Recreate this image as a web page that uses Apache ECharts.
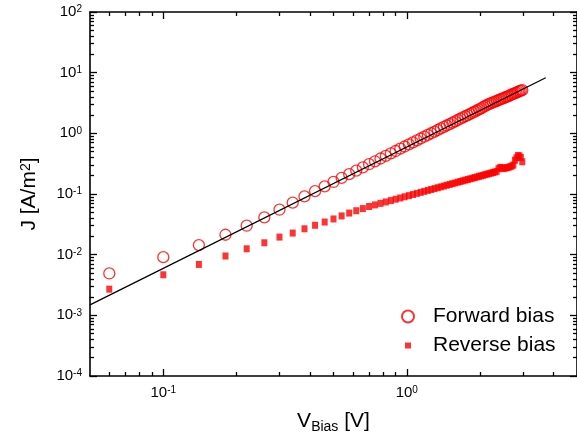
<!DOCTYPE html>
<html>
<head>
<meta charset="utf-8">
<script src="https://cdn.jsdelivr.net/npm/echarts@6/dist/echarts.min.js"></script>
<style>
  html, body { margin: 0; padding: 0; background: #fff; }
  #chart { width: 577px; height: 441px; }
</style>
</head>
<body>
<div id="chart"></div>
<script>
// Bias voltage sweep (V)
const biasVoltage = [
  0.06, 0.10, 0.14, 0.18, 0.22, 0.26, 0.30, 0.34, 0.38, 0.42, 0.46, 0.50,
  0.54, 0.58, 0.62, 0.66, 0.70, 0.74, 0.78, 0.82, 0.86, 0.90, 0.94, 0.98,
  1.02, 1.06, 1.10, 1.14, 1.18, 1.22, 1.26, 1.30, 1.34, 1.38, 1.42, 1.46,
  1.50, 1.54, 1.58, 1.62, 1.66, 1.70, 1.74, 1.78, 1.82, 1.86, 1.90, 1.94,
  1.98, 2.02, 2.06, 2.10, 2.14, 2.18, 2.22, 2.26, 2.30, 2.34, 2.38, 2.42,
  2.46, 2.50, 2.54, 2.58, 2.62, 2.66, 2.70, 2.74, 2.78, 2.82, 2.86, 2.90,
  2.94, 2.98
];

// Current density under forward bias (A/m^2)
const forwardJ = [
  0.0049, 0.0091, 0.0144, 0.0213, 0.0300, 0.0411, 0.0551, 0.0720, 0.0913, 0.1115, 0.1337, 0.158,
  0.1843, 0.2126, 0.2429, 0.2753, 0.3097, 0.3461, 0.3845, 0.425, 0.4674, 0.5119, 0.5584, 0.607,
  0.6575, 0.7101, 0.7647, 0.8213, 0.880, 0.9407, 1.003, 1.068, 1.135, 1.204, 1.274, 1.347,
  1.422, 1.499, 1.578, 1.659, 1.742, 1.826, 1.913, 2.002, 2.093, 2.186, 2.282, 2.379,
  2.478, 2.579, 2.716, 2.844, 2.954, 3.065, 3.154, 3.243, 3.333, 3.422, 3.512, 3.631,
  3.722, 3.813, 3.935, 4.027, 4.119, 4.245, 4.374, 4.467, 4.598, 4.692, 4.826, 4.962,
  5.056, 5.151
];

// Current density under reverse bias (A/m^2)
const reverseJ = [
  0.0027, 0.00466, 0.0069, 0.0095, 0.0125, 0.0157, 0.0195, 0.0227, 0.0267, 0.0305, 0.0345, 0.0388,
  0.0435, 0.0485, 0.0530, 0.0575, 0.0622, 0.0661, 0.0701, 0.0740, 0.0780, 0.0820, 0.0860, 0.0901,
  0.0941, 0.0982, 0.1023, 0.1064, 0.1105, 0.1146, 0.1187, 0.1229, 0.1271, 0.1312, 0.1354, 0.1396,
  0.1438, 0.1481, 0.1523, 0.1565, 0.1608, 0.1651, 0.1694, 0.1736, 0.1779, 0.1822, 0.1866, 0.1909,
  0.1952, 0.1996, 0.2039, 0.2083, 0.2126, 0.2170, 0.2214, 0.2258, 0.2302, 0.236, 0.262, 0.275,
  0.270, 0.262, 0.268, 0.272, 0.276, 0.282, 0.290, 0.300, 0.360, 0.395, 0.430, 0.425,
  0.400, 0.340
];

// Square-law fit line end points
const fitV = [0.05, 3.72];
const fitJ = [0.00149, 8.25];

// Tick positions
const xMajorTicks = [0.1, 1];
const xMinorTicks = [0.06, 0.07, 0.08, 0.09, 0.2, 0.3, 0.4, 0.5, 0.6, 0.7, 0.8, 0.9, 2, 3, 4];
const yMajorTicks = [1e-4, 1e-3, 1e-2, 1e-1, 1, 10, 100];
const yMinorTicks = [
  2e-4, 3e-4, 4e-4, 5e-4, 6e-4, 7e-4, 8e-4, 9e-4,
  2e-3, 3e-3, 4e-3, 5e-3, 6e-3, 7e-3, 8e-3, 9e-3,
  2e-2, 3e-2, 4e-2, 5e-2, 6e-2, 7e-2, 8e-2, 9e-2,
  0.2, 0.3, 0.4, 0.5, 0.6, 0.7, 0.8, 0.9,
  2, 3, 4, 5, 6, 7, 8, 9,
  20, 30, 40, 50, 60, 70, 80, 90
];

const legendNames = ['Forward bias', 'Reverse bias'];

const FONT = "'Liberation Sans', Arial, Helvetica, sans-serif";
const X_RANGE = [0.05, 5];
const Y_RANGE = [1e-4, 100];

function zip(xs, ys) {
  return xs.map((x, i) => [x, ys[i]]);
}

function powerLabel(value) {
  const e = Math.round(Math.log10(value));
  return '{b|10}{s|' + e + '}';
}

const labelRich = {
  b: { fontSize: 15, fontFamily: FONT, color: '#000' },
  s: { fontSize: 10, fontFamily: FONT, color: '#000', verticalAlign: 'top' }
};

function logAxis(dim, position, ticks, len, extra) {
  const range = dim === 'x' ? X_RANGE : Y_RANGE;
  return Object.assign({
    type: 'log',
    logBase: 10,
    position: position,
    min: range[0],
    max: range[1],
    gridIndex: 0,
    axisLine: { show: true, onZero: false, lineStyle: { color: '#000', width: 1.6 } },
    axisTick: { show: true, inside: true, length: len, customValues: ticks,
                lineStyle: { color: '#000', width: 1.3 } },
    axisLabel: { show: false },
    splitLine: { show: false },
    minorTick: { show: false },
    minorSplitLine: { show: false },
    silent: true
  }, extra || {});
}

const chart = echarts.init(document.getElementById('chart'), null, { renderer: 'canvas' });

chart.setOption({
  animation: false,
  backgroundColor: '#fff',
  textStyle: { fontFamily: FONT },
  grid: { left: 90, top: 12, width: 493, height: 364, containLabel: false },
  legend: {
    orient: 'vertical',
    left: 396,
    top: 301,
    itemWidth: 12,
    itemHeight: 12,
    itemGap: 8,
    selectedMode: false,
    textStyle: { fontSize: 21, fontFamily: FONT, color: '#000', padding: [0, 0, 0, 14] },
    data: [
      { name: legendNames[0], icon: 'circle' },
      { name: legendNames[1], icon: 'path://M0,0M12,12M3,3h6v6h-6z' }
    ]
  },
  xAxis: [
    logAxis('x', 'bottom', xMajorTicks, 7, {
      axisLabel: {
        show: true, margin: 9, customValues: xMajorTicks,
        formatter: powerLabel, rich: labelRich
      },
      name: 'V{sub|Bias} [V]',
      nameLocation: 'middle',
      nameGap: 32,
      nameTextStyle: {
        fontSize: 21, fontFamily: FONT, color: '#000',
        rich: {
          sub: { fontSize: 14, fontFamily: FONT, color: '#000', verticalAlign: 'top', padding: [12, 0, 0, 0] }
        }
      }
    }),
    logAxis('x', 'top', xMajorTicks, 7),
    logAxis('x', 'bottom', xMinorTicks, 4, { axisLine: { show: false, onZero: false } }),
    logAxis('x', 'top', xMinorTicks, 4, { axisLine: { show: false, onZero: false } })
  ],
  yAxis: [
    logAxis('y', 'left', yMajorTicks, 7, {
      axisLabel: {
        show: true, margin: 8, customValues: yMajorTicks,
        formatter: powerLabel, rich: labelRich
      },
      name: 'J [A/m{sup|2}]',
      nameLocation: 'middle',
      nameGap: 50,
      nameRotate: 90,
      nameTextStyle: {
        fontSize: 21, fontFamily: FONT, color: '#000',
        rich: {
          sup: { fontSize: 14, fontFamily: FONT, color: '#000', verticalAlign: 'top' }
        }
      }
    }),
    logAxis('y', 'right', yMajorTicks, 7),
    logAxis('y', 'left', yMinorTicks, 4, { axisLine: { show: false, onZero: false } }),
    logAxis('y', 'right', yMinorTicks, 4, { axisLine: { show: false, onZero: false } })
  ],
  series: [
    {
      name: legendNames[1],
      type: 'scatter',
      xAxisIndex: 0, yAxisIndex: 0,
      symbol: 'rect',
      symbolSize: [6, 7],
      itemStyle: { color: '#ff0000' },
      emphasis: { disabled: true },
      data: zip(biasVoltage, reverseJ),
      z: 2
    },
    {
      name: legendNames[0],
      type: 'scatter',
      xAxisIndex: 0, yAxisIndex: 0,
      symbol: 'circle',
      symbolSize: 11,
      itemStyle: { color: 'rgba(255,255,255,0)', borderColor: '#ff0000', borderWidth: 1.3 },
      emphasis: { disabled: true },
      data: zip(biasVoltage, forwardJ),
      z: 3
    },
    {
      name: 'fit',
      type: 'line',
      xAxisIndex: 0, yAxisIndex: 0,
      symbol: 'none',
      lineStyle: { color: '#000', width: 1.3 },
      emphasis: { disabled: true },
      data: zip(fitV, fitJ),
      z: 4
    }
  ]
});
</script>
</body>
</html>
